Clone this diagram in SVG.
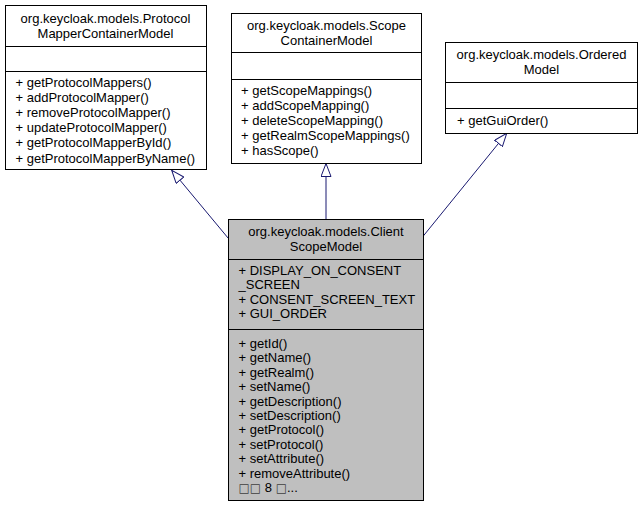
<svg xmlns="http://www.w3.org/2000/svg" width="643" height="507" viewBox="0 0 643 507">
<style>
  .box { fill: #ffffff; stroke: #000000; stroke-width: 1; }
  .main { fill: #bfbfbf; }
  .div { stroke: #000000; stroke-width: 1; }
  text { font-family: "Liberation Sans", Arial, sans-serif; font-size: 13px; fill: #000000; }
  .c { text-anchor: middle; }
  .tofu { font-family: "DejaVu Sans", sans-serif; font-size: 12px; fill: #404040; }
  .edge { fill: none; stroke: #191970; stroke-width: 1; }
</style>
<defs>
  <marker id="inherit" viewBox="0 0 14 11" refX="13.5" refY="5.5" markerWidth="14" markerHeight="11" markerUnits="userSpaceOnUse" orient="auto">
    <path d="M0.5,0.5 L13.5,5.5 L0.5,10.5 Z" fill="#ffffff" stroke="#191970" stroke-width="1"/>
  </marker>
</defs>
<rect width="643" height="507" fill="#ffffff"/>
<g id="connectors">
  <path class="edge" d="M228.3,238.3 L171.7,170.2" marker-end="url(#inherit)"/>
  <path class="edge" d="M326,219 L326,163.5" marker-end="url(#inherit)"/>
  <path class="edge" d="M423.3,236 L506.7,133.3" marker-end="url(#inherit)"/>
</g>
<g id="ProtocolMapperContainerModel">
  <rect class="box" x="5.5" y="5.5" width="201" height="164"/>
  <line class="div" x1="5.5" y1="46.5" x2="206.5" y2="46.5"/>
  <line class="div" x1="5.5" y1="71.5" x2="206.5" y2="71.5"/>
  <text class="c" x="105.5" y="23">org.keycloak.models.Protocol</text>
  <text class="c" x="105.5" y="38">MapperContainerModel</text>
  <text x="15.5" y="87">+ getProtocolMappers()</text>
  <text x="15.5" y="102">+ addProtocolMapper()</text>
  <text x="15.5" y="117">+ removeProtocolMapper()</text>
  <text x="15.5" y="132">+ updateProtocolMapper()</text>
  <text x="15.5" y="147">+ getProtocolMapperById()</text>
  <text x="15.5" y="163">+ getProtocolMapperByName()</text>
</g>
<g id="ScopeContainerModel">
  <rect class="box" x="231.5" y="13.5" width="190" height="150"/>
  <line class="div" x1="231.5" y1="52.5" x2="421.5" y2="52.5"/>
  <line class="div" x1="231.5" y1="79.5" x2="421.5" y2="79.5"/>
  <text class="c" x="326.5" y="30">org.keycloak.models.Scope</text>
  <text class="c" x="326.5" y="45">ContainerModel</text>
  <text x="241" y="95">+ getScopeMappings()</text>
  <text x="241" y="110">+ addScopeMapping()</text>
  <text x="241" y="125">+ deleteScopeMapping()</text>
  <text x="241" y="140">+ getRealmScopeMappings()</text>
  <text x="241" y="155">+ hasScope()</text>
</g>
<g id="OrderedModel">
  <rect class="box" x="445.5" y="42.5" width="192" height="91"/>
  <line class="div" x1="445.5" y1="82.5" x2="637.5" y2="82.5"/>
  <line class="div" x1="445.5" y1="108.5" x2="637.5" y2="108.5"/>
  <text class="c" x="541.5" y="59">org.keycloak.models.Ordered</text>
  <text class="c" x="541.5" y="74">Model</text>
  <text x="457" y="125">+ getGuiOrder()</text>
</g>
<g id="ClientScopeModel">
  <rect class="box main" x="228.5" y="219.5" width="195" height="281"/>
  <line class="div" x1="228.5" y1="259.5" x2="423.5" y2="259.5"/>
  <line class="div" x1="228.5" y1="329.5" x2="423.5" y2="329.5"/>
  <text class="c" x="326" y="236">org.keycloak.models.Client</text>
  <text class="c" x="326" y="251">ScopeModel</text>
  <text x="238.5" y="275">+ DISPLAY_ON_CONSENT</text>
  <text x="238.5" y="289">_SCREEN</text>
  <text x="238.5" y="304">+ CONSENT_SCREEN_TEXT</text>
  <text x="238.5" y="318">+ GUI_ORDER</text>
  <text x="238.5" y="348">+ getId()</text>
  <text x="238.5" y="362.4">+ getName()</text>
  <text x="238.5" y="376.8">+ getRealm()</text>
  <text x="238.5" y="391.2">+ setName()</text>
  <text x="238.5" y="405.6">+ getDescription()</text>
  <text x="238.5" y="420">+ setDescription()</text>
  <text x="238.5" y="434.4">+ getProtocol()</text>
  <text x="238.5" y="448.8">+ setProtocol()</text>
  <text x="238.5" y="463.2">+ setAttribute()</text>
  <text x="238.5" y="477.6">+ removeAttribute()</text>
  <text x="238.5" y="492"><tspan class="tofu">□□</tspan> 8 <tspan class="tofu">□</tspan>...</text>
</g>
</svg>
